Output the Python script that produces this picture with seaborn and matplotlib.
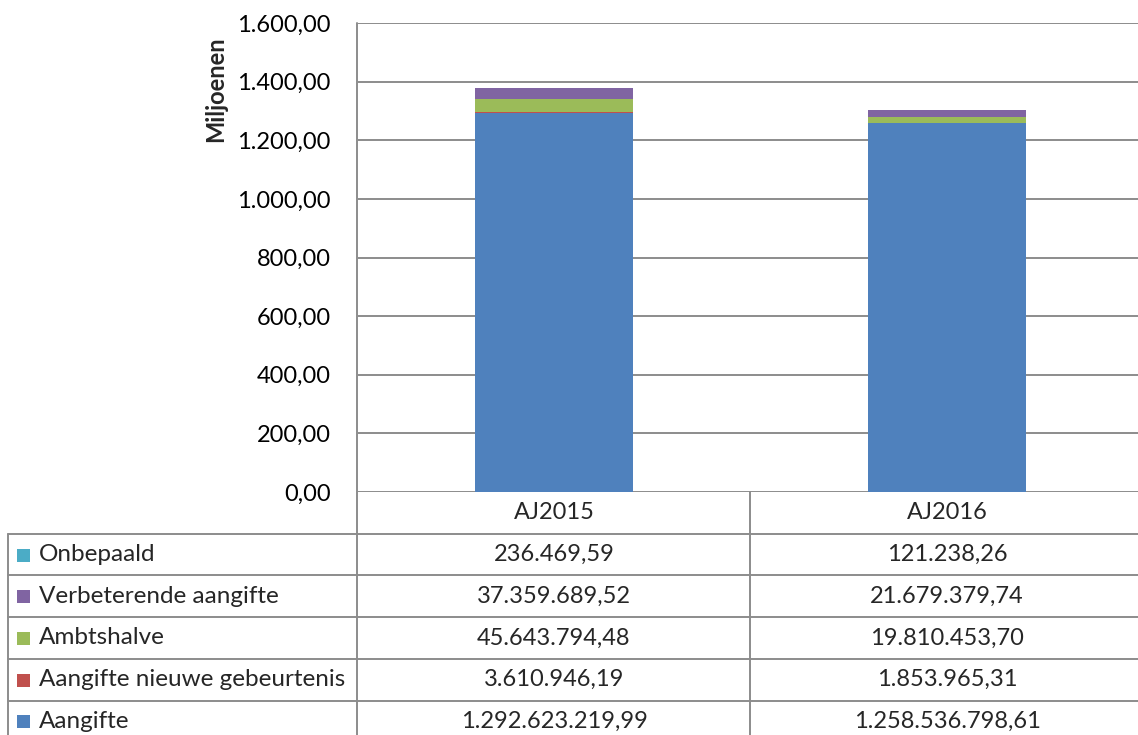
import matplotlib
matplotlib.use("Agg")
import matplotlib.pyplot as plt
from matplotlib.lines import Line2D
from matplotlib.patches import Rectangle
import seaborn as sns
import pandas as pd
import numpy as np

# ---- data (euro) ----
years = ["AJ2015", "AJ2016"]
series = ["Aangifte", "Aangifte nieuwe gebeurtenis", "Ambtshalve",
          "Verbeterende aangifte", "Onbepaald"]
aangifte = [1292623219.99, 1258536798.61]
nieuwe_gebeurtenis = [3610946.19, 1853965.31]
ambtshalve = [45643794.48, 19810453.70]
verbeterend = [37359689.52, 21679379.74]
onbepaald = [236469.59, 121238.26]
colors = ["#4f81bd", "#c0504d", "#9bbb59", "#8064a2", "#4bacc6"]
yticks = [0, 200, 400, 600, 800, 1000, 1200, 1400, 1600]


def nl(v, dec=2):
    s = f"{v:,.{dec}f}"
    return s.replace(",", "X").replace(".", ",").replace("X", ".")


values = [aangifte, nieuwe_gebeurtenis, ambtshalve, verbeterend, onbepaald]
df = pd.DataFrame({"jaar": years})
for name, vals in zip(series, values):
    df[name] = np.array(vals) / 1e6
cum = df[series].cumsum(axis=1)

sns.set_theme(style="white")
plt.rcParams["font.family"] = ["Lato", "DejaVu Sans"]
FS = 17

W, H = 1138, 735
fig = plt.figure(figsize=(W / 100, H / 100), dpi=100)

# plot area in pixels
x0, x_cat, y_top, y_zero = 357.5, 393.0, 23.0, 492.0
ax = fig.add_axes([x0 / W, (H - y_zero) / H, 2 * x_cat / W, (y_zero - y_top) / H])

# stacked bars: draw cumulative totals from the top segment downward
for name, col in reversed(list(zip(series, colors))):
    sns.barplot(x=df["jaar"], y=cum[name], color=col, width=0.4,
                saturation=1, linewidth=0, ax=ax, zorder=3)

ax.set_xlim(-0.5, 1.5)
ax.set_ylim(0, 1600)
ax.set_yticks(yticks)
ax.set_yticklabels([nl(t) for t in yticks], fontsize=FS, color="#000000")
ax.set_xticks([])
ax.set_xlabel("")
ax.set_ylabel("")
ax.tick_params(axis="y", length=0, pad=19.5)
grid_c = "#8c8c8c"
for t in yticks:
    ax.axhline(t, color=grid_c, lw=1.4, zorder=1)
for s in ax.spines.values():
    s.set_visible(False)

fig.text(216 / W, (H - 89) / H, "Miljoenen", rotation=90, fontsize=FS,
         fontweight="bold", ha="center", va="center")

# ---- data table below the axis ----
tab = fig.add_axes([0, 0, 1, 1], facecolor="none")
tab.set_xlim(0, W)
tab.set_ylim(H, 0)
tab.axis("off")

row_h = 41.7
hdr_bottom = y_zero + row_h
rows = list(reversed(series))
row_vals = list(reversed(values))
col_centers = [x0 + x_cat * 0.5, x0 + x_cat * 1.5]

lw = 1.4
# vertical lines
tab.add_line(Line2D([x0, x0], [y_top, H + 5], color=grid_c, lw=lw))
tab.add_line(Line2D([x0 + x_cat] * 2, [y_zero, H + 5], color=grid_c, lw=lw))
tab.add_line(Line2D([8, 8], [hdr_bottom, H + 5], color=grid_c, lw=lw))

# header
for xc, yr in zip(col_centers, years):
    tab.text(xc, y_zero + row_h / 2, yr, ha="center", va="center", fontsize=FS)

for i, (name, vals) in enumerate(zip(rows, row_vals)):
    top = hdr_bottom + i * row_h
    tab.add_line(Line2D([8, W + 5], [top, top], color=grid_c, lw=lw))
    yc = top + row_h / 2
    col = colors[series.index(name)]
    tab.add_patch(Rectangle((17, yc - 6), 13, 13, color=col, lw=0))
    tab.text(39, yc, name, ha="left", va="center", fontsize=17.5)
    for xc, v in zip(col_centers, vals):
        tab.text(xc, yc, nl(v), ha="center", va="center", fontsize=FS)

fig.savefig("out.png", dpi=100, facecolor="white")
